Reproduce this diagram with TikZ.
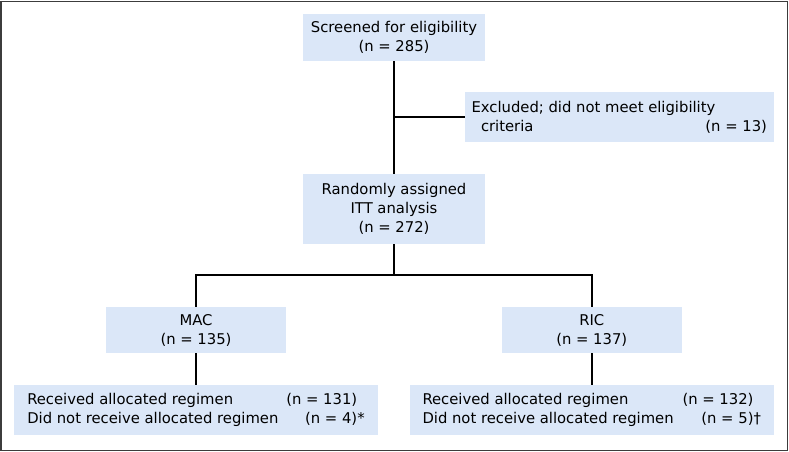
\documentclass[tikz,border=0pt]{standalone}
\usepackage{fontspec}
\setmainfont{DejaVu Sans}
\definecolor{boxblue}{RGB}{219,231,248}
\definecolor{framegray}{RGB}{60,60,60}
\begin{document}
\begin{tikzpicture}[x=1pt,y=-1pt,
  txt/.style={font=\fontsize{14.8}{19}\selectfont},
  bluebox/.style={txt,fill=boxblue,inner sep=0pt,align=center},
  conn/.style={draw=black,line width=2pt}]
\useasboundingbox (0,0) rectangle (789,452);
\draw[framegray,line width=1.5pt] (1,1.5) rectangle (787.5,450.5);

\node[bluebox,minimum width=181.5pt,minimum height=47pt] (scr) at (394,37.5)
  {Screened for eligibility\\(n = 285)};
\node[bluebox,minimum width=308.5pt,minimum height=50pt] (excl) at (619.25,117)
  {\parbox{295.5pt}{Excluded; did not meet eligibility\\\hspace*{9.5pt}criteria\hfill(n = 13)}};
\node[bluebox,minimum width=181.5pt,minimum height=70pt] (rand) at (394,209)
  {Randomly assigned\\ITT analysis\\(n = 272)};
\node[bluebox,minimum width=180pt,minimum height=46pt] (mac) at (196,330)
  {MAC\\(n = 135)};
\node[bluebox,minimum width=180.5pt,minimum height=46pt] (ric) at (591.75,330)
  {RIC\\(n = 137)};
\node[bluebox,minimum width=363.5pt,minimum height=49.5pt] (recL) at (195.75,409.75)
  {\parbox{337pt}{Received allocated regimen\hfill(n = 131)\makebox[7pt][l]{}\\
   Did not receive allocated regimen\hfill(n = 4)\makebox[7pt][l]{*}}};
\node[bluebox,minimum width=364pt,minimum height=49.5pt] (recR) at (591.5,409.75)
  {\parbox{338pt}{Received allocated regimen\hfill(n = 132)\makebox[7pt][l]{}\\
   Did not receive allocated regimen\hfill(n = 5)\makebox[7pt][l]{†}}};

\coordinate (j1) at (scr.south |- excl.west);
\coordinate (j2) at (394,275);
\draw[conn] (scr.south) -- (rand.north);
\draw[conn] (j1) -- (excl.west);
\draw[conn] (rand.south) -- (j2);
\draw[conn] (mac.north) |- (j2) -| (ric.north);
\draw[conn] (mac.south) -- (recL.north -| mac.south);
\draw[conn] (ric.south) -- (recR.north -| ric.south);
\end{tikzpicture}
\end{document}
